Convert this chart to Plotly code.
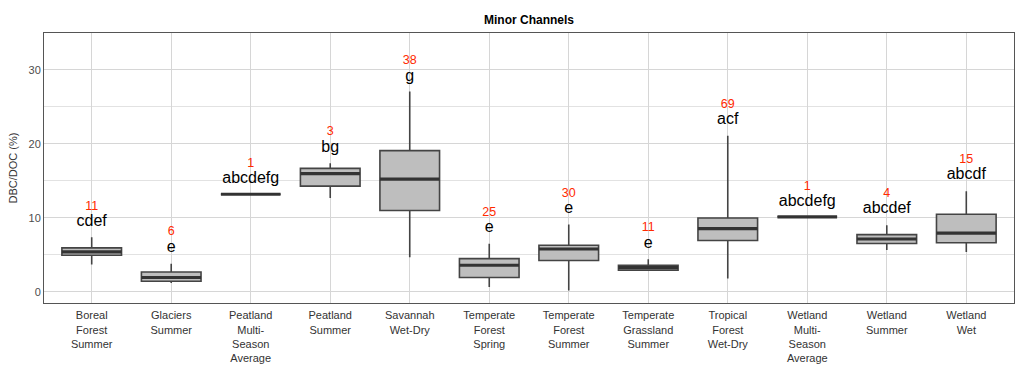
import plotly.graph_objects as go

categories = ["Boreal<br>Forest<br>Summer", "Glaciers<br>Summer", "Peatland<br>Multi-<br>Season<br>Average",
              "Peatland<br>Summer", "Savannah<br>Wet-Dry", "Temperate<br>Forest<br>Spring",
              "Temperate<br>Forest<br>Summer", "Temperate<br>Grassland<br>Summer", "Tropical<br>Forest<br>Wet-Dry",
              "Wetland<br>Multi-<br>Season<br>Average", "Wetland<br>Summer", "Wetland<br>Wet"]
lower = [3.7, 1.2, 13.2, 12.7, 4.7, 0.65, 0.2, 2.9, 1.8, 10.15, 5.65, 5.4]
q1 = [4.95, 1.45, 13.2, 14.3, 11.0, 1.95, 4.25, 2.95, 6.95, 10.15, 6.55, 6.65]
median = [5.4, 1.95, 13.2, 16.0, 15.25, 3.6, 5.8, 3.3, 8.55, 10.15, 7.15, 7.95]
q3 = [5.95, 2.7, 13.2, 16.7, 19.1, 4.5, 6.3, 3.6, 10.0, 10.15, 7.75, 10.5]
upper = [7.4, 3.8, 13.2, 17.4, 27.1, 6.5, 9.1, 4.4, 21.1, 10.15, 9.0, 13.6]
letters = ["cdef", "e", "abcdefg", "bg", "g", "e", "e", "e", "acf", "abcdefg", "abcdef", "abcdf"]
letter_y = [9.5, 5.95, 15.25, 19.5, 29.0, 8.6, 11.2, 6.5, 23.25, 12.2, 11.2, 15.75]
counts = ["11", "6", "1", "3", "38", "25", "30", "11", "69", "1", "4", "15"]
count_y = [11.55, 8.05, 17.3, 21.6, 31.2, 10.65, 13.25, 8.6, 25.3, 14.25, 13.2, 17.8]
yticks = [0, 10, 20, 30]
yminor = [5, 15, 25]

xs = list(range(len(categories)))
bw = 0.75

fig = go.Figure()
fig.add_trace(go.Box(
    x=xs, q1=q1, median=median, q3=q3, lowerfence=lower, upperfence=upper,
    width=bw, whiskerwidth=0, fillcolor="#bebebe",
    line=dict(color="#444444", width=1.6), boxpoints=False, showlegend=False, hoverinfo="skip"))

mx, my = [], []
for i, m in zip(xs, median):
    mx += [i - bw / 2, i + bw / 2, None]
    my += [m, m, None]
fig.add_trace(go.Scatter(x=mx, y=my, mode="lines", line=dict(color="#333333", width=3.2),
                         showlegend=False, hoverinfo="skip"))

fig.add_trace(go.Scatter(x=xs, y=letter_y, mode="text", text=letters,
                         textfont=dict(family="Liberation Sans, Arial", size=16, color="black"),
                         textposition="middle center", showlegend=False, hoverinfo="skip"))
fig.add_trace(go.Scatter(x=xs, y=count_y, mode="text", text=counts,
                         textfont=dict(family="Liberation Sans, Arial", size=12.5, color="#ff2a00"),
                         textposition="middle center", showlegend=False, hoverinfo="skip"))

fig.update_layout(
    width=1023, height=368,
    margin=dict(l=44, r=9, t=33, b=65, autoexpand=False),
    paper_bgcolor="white", plot_bgcolor="white",
    font=dict(family="Liberation Sans, Arial", color="#333333"),
    title=dict(text="<b>Minor Channels</b>", x=0.5, xref="paper", xanchor="center",
               y=1 - 20 / 368, yanchor="middle", font=dict(size=12, color="black")),
)
fig.update_xaxes(range=[-0.6, len(categories) - 0.4], tickvals=xs, ticktext=categories,
                 tickfont=dict(size=11, color="#333333"), showgrid=True, gridcolor="#d6d6d6",
                 gridwidth=1.2, zeroline=False, showline=True, linecolor="#555555", linewidth=1,
                 mirror=True, ticks="", tickangle=0, automargin=False, ticklabelstandoff=2)
fig.update_yaxes(range=[-1.5, 35], tickvals=yticks, tickfont=dict(size=11, color="#4d4d4d"),
                 showgrid=True, gridcolor="#d6d6d6", gridwidth=1.2, zeroline=False,
                 minor=dict(tickvals=yminor, showgrid=True, gridcolor="#e2e2e2", gridwidth=1.2),
                 showline=True, linecolor="#555555", linewidth=1, mirror=True, ticks="",
                 automargin=False,
                 title=dict(text="DBC/DOC (%)", font=dict(size=11, color="#333333"), standoff=8))

fig.write_html("out.html", config={"displayModeBar": False},
               post_script="document.body.style.margin='0';document.body.style.overflow='hidden';")
